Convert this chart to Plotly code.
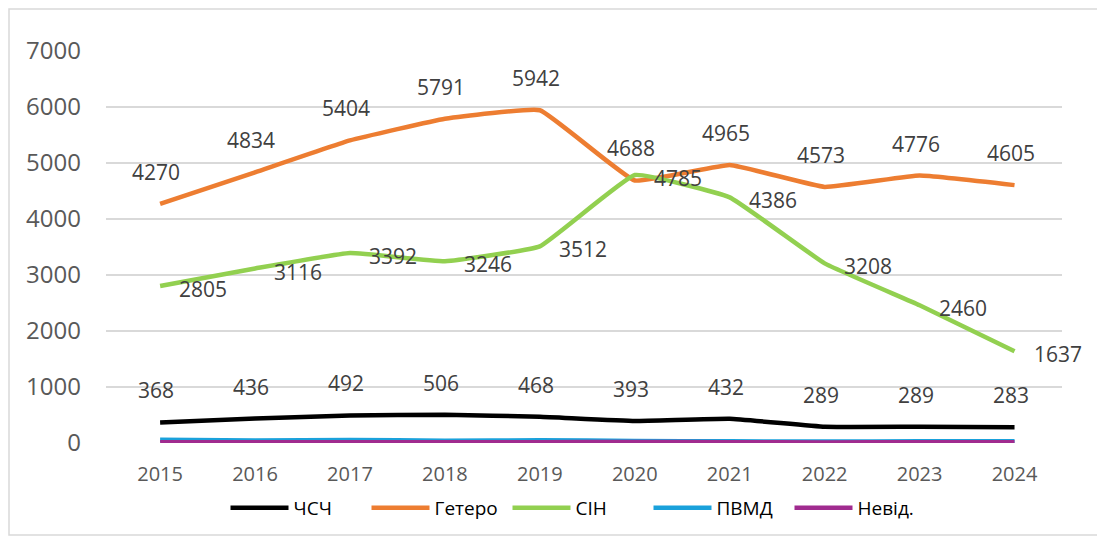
import plotly.graph_objects as go

years = ["2015", "2016", "2017", "2018", "2019", "2020", "2021", "2022", "2023", "2024"]
chsch = [368, 436, 492, 506, 468, 393, 432, 289, 289, 283]
hetero = [4270, 4834, 5404, 5791, 5942, 4688, 4965, 4573, 4776, 4605]
sin = [2805, 3116, 3392, 3246, 3512, 4785, 4386, 3208, 2460, 1637]
pvmd = [60, 45, 55, 40, 50, 35, 30, 25, 30, 30]
nevid = [15, 12, 12, 15, 15, 20, 15, 10, 15, 15]
y_ticks = [0, 1000, 2000, 3000, 4000, 5000, 6000, 7000]

series = [
    ("ЧСЧ", chsch, "#000000"),
    ("Гетеро", hetero, "#ED7D31"),
    ("СІН", sin, "#92D050"),
    ("ПВМД", pvmd, "#1AA1DB"),
    ("Невід.", nevid, "#A02B8F"),
]

fig = go.Figure()
for name, vals, color in series:
    fig.add_trace(go.Scatter(
        x=years, y=vals, name=name, mode="lines",
        line=dict(color=color, width=4.5, shape="spline", smoothing=0.3),
    ))

label_font = dict(family="Open Sans", size=21, color="#404040")
annotations = []
for i, v in enumerate(hetero):
    annotations.append(dict(x=i, y=v, text=str(v), showarrow=False, yshift=32, xshift=-4,
                            xref="x", yref="y", font=label_font))
for i, v in enumerate(chsch):
    annotations.append(dict(x=i, y=v, text=str(v), showarrow=False, yshift=32, xshift=-4,
                            xref="x", yref="y", font=label_font))
for i, v in enumerate(sin):
    annotations.append(dict(x=i, y=v, text=str(v), showarrow=False, xshift=43, yshift=-3,
                            xref="x", yref="y", font=label_font))

# page has 8px body offset; figure is sized accordingly
OFF = 8
W, H = 1105 - OFF, 541 - OFF
L, T, PW, PH = 106 - OFF, 51 - OFF, 956, 392
def px(xp):
    return (xp - OFF - L) / PW
def py(yp):
    return (T + PH - (yp - OFF)) / PH

fig.update_layout(
    width=W, height=H,
    margin=dict(l=L, r=W - L - PW, t=T, b=H - T - PH, pad=0),
    paper_bgcolor="white", plot_bgcolor="white",
    font=dict(family="Open Sans", color="#595959"),
    xaxis=dict(type="category", range=[-0.57, 9.5], showgrid=False, zeroline=False,
               showline=False, ticks="", tickfont=dict(size=20, color="#595959"),
               ticklabelstandoff=17),
    yaxis=dict(range=[0, 7000], tickvals=y_ticks, showgrid=True, gridcolor="#D9D9D9",
               gridwidth=1.5, zeroline=False, showline=False, ticks="",
               tickfont=dict(size=24, color="#595959"), ticklabelstandoff=24),
    legend=dict(orientation="h", x=px(578), xanchor="center", y=py(508), yanchor="middle",
                font=dict(family="Open Sans", size=19, color="#000000"),
                itemwidth=58, entrywidth=68, bgcolor="rgba(0,0,0,0)"),
    annotations=annotations,
    shapes=[dict(type="rect", xref="paper", yref="paper",
                 x0=px(9), x1=px(1098), y0=py(535), y1=py(9),
                 line=dict(color="#D9D9D9", width=1.5), layer="below")],
)

fig.write_html("out.html")
